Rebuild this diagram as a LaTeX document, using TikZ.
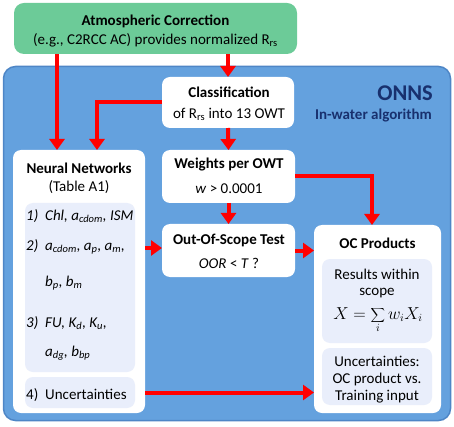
\documentclass[tikz,border=0pt]{standalone}
\usepackage{fontspec}
\setmainfont{Carlito}
\usetikzlibrary{arrows.meta,calc}
\definecolor{agreen}{RGB}{108,203,152}
\definecolor{onnsblue}{RGB}{100,161,222}
\definecolor{onnsedge}{RGB}{78,134,198}
\definecolor{lav}{RGB}{233,238,251}
\definecolor{navy}{RGB}{24,48,110}
\begin{document}
\begin{tikzpicture}[x=1pt,y=-1pt,
  wbox/.style={fill=white, rounded corners=8pt, inner sep=0pt, outer sep=0pt},
  lbox/.style={fill=lav, rounded corners=8pt, inner sep=0pt, outer sep=0pt},
  txt/.style={inner sep=0pt, font=\fontsize{15}{18}\selectfont},
  arr/.style={draw=red, line width=4pt, -{Triangle[width=15pt,length=11pt]}},
  item/.style={txt, anchor=west}]
\useasboundingbox (0,0) rectangle (454,427);
% background boxes
\node[fill=onnsblue, draw=onnsedge, line width=1.5pt, rounded corners=12pt, minimum width=447pt, minimum height=354pt, inner sep=0pt] (onns) at (227,243.5) {};
\node[fill=agreen, rounded corners=10pt, minimum width=283pt, minimum height=51pt, inner sep=0pt] (green) at (155.5,28.5) {};
\node[wbox, minimum width=132pt, minimum height=51pt] (class) at (228,102.5) {};
\node[wbox, minimum width=133pt, minimum height=53pt] (weights) at (228.5,176.5) {};
\node[wbox, minimum width=133pt, minimum height=53pt] (oos) at (228.5,250.5) {};
\node[wbox, minimum width=132pt, minimum height=263pt] (nn) at (79,281.5) {};
\node[lbox, minimum width=110pt, minimum height=169pt] (nnin) at (80,287.5) {};
\node[lbox, minimum width=110pt, minimum height=31pt] (nn4) at (80,392.5) {};
\node[wbox, minimum width=127pt, minimum height=188pt] (oc) at (377.5,319) {};
\node[lbox, minimum width=110pt, minimum height=84pt] (oc1) at (377,301) {};
\node[lbox, minimum width=110pt, minimum height=57pt] (oc2) at (377,376.5) {};
% texts
\node[txt] (gT1) at (155.5,21.5) {\textbf{Atmospheric Correction}};
\node[txt] (gT2) at (155.5,40) {(e.g., C2RCC AC) provides normalized R\textsubscript{rs}};
\node[txt, font=\fontsize{22.5}{26}\selectfont\bfseries, text=navy, anchor=east] (onnsT) at (433,93) {ONNS};
\node[txt, font=\fontsize{15}{18}\selectfont\bfseries, text=navy, anchor=east] (onnsT2) at (432,115.5) {In-water algorithm};
\node[txt] (cT1) at (229,92) {\textbf{Classification}};
\node[txt] (cT2) at (229,114.5) {of R\textsubscript{rs} into 13 OWT};
\node[txt] (wT1) at (229,165) {\textbf{Weights per OWT}};
\node[txt] (wT2) at (229,189) {\textit{w} > 0.0001};
\node[txt] (oT1) at (229,240) {\textbf{Out-Of-Scope Test}};
\node[txt] (oT2) at (229,263) {\textit{OOR} < \textit{T} ?};
\node[txt] (nT1) at (79,168) {\textbf{Neural Networks}};
\node[txt] (nT2) at (79,187) {(Table A1)};
\node[item] (i1) at (26,216) {\makebox[19pt][l]{\textit{1)}}\textit{Chl, a\textsubscript{cdom}, ISM}};
\node[item] (i2) at (26,247) {\makebox[19pt][l]{\textit{2)}}\textit{a\textsubscript{cdom}, a\textsubscript{p}, a\textsubscript{m},}};
\node[item] (i2b) at (26,283) {\hspace*{19pt}\textit{b\textsubscript{p}, b\textsubscript{m}}};
\node[item] (i3) at (26,323) {\makebox[19pt][l]{\textit{3)}}\textit{FU, K\textsubscript{d}, K\textsubscript{u},}};
\node[item] (i3b) at (26,353) {\hspace*{19pt}\textit{a\textsubscript{dg}, b\textsubscript{bp}}};
\node[item] (i4) at (26,395) {\makebox[19pt][l]{4)}Uncertainties};
\node[txt] (ocT) at (377.5,243) {\textbf{OC Products}};
\node[txt] (r1) at (377,274) {Results within};
\node[txt] (r2) at (377,293) {scope};
\node[txt, font=\fontsize{16}{19}\selectfont] (r3) at (378,320) {$X = \displaystyle\sum_i w_i X_i$};
\node[txt] (u1) at (377,361) {Uncertainties:};
\node[txt] (u2) at (377,379) {OC product vs.};
\node[txt] (u3) at (377,397) {Training input};
% connector anchors
\coordinate (nnA) at (57,150);
\coordinate (nnB) at (97,150);
\coordinate (ocA) at (372,225);
% connectors
\draw[arr] (green.south -| nnA) -- (nnA);
\draw[arr] (green.south -| class.north) -- (class.north);
\draw[arr] (class.west) -| (nnB);
\draw[arr] (class.south) -- (weights.north);
\draw[arr] (weights.south) -- (oos.north);
\draw[arr] (weights.east) -| (ocA);
\draw[arr] (nn.east |- 0,248) -- (oos.west |- 0,248);
\draw[arr] (oos.east) -- (oos.east -| oc.west);
\draw[arr] (nn.east |- nn4) -- (nn4 -| oc.west);
\end{tikzpicture}
\end{document}
